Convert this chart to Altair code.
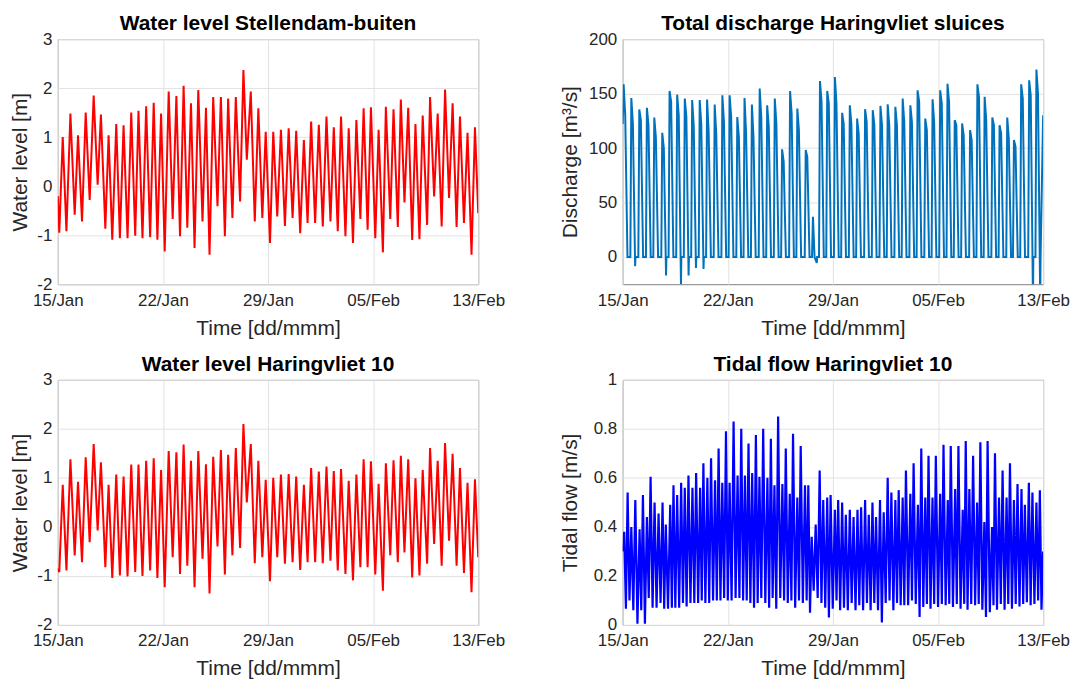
import altair as alt
import pandas as pd

# Times of successive high/low water (hours after 15 Jan 00:00), first and last entries are the series ends
TIDE_HOURS = [
    0, 2.5, 8.2, 14.3, 20.9, 28.0, 33.5, 40.1, 46.2, 52.8,
    59.4, 66.0, 71.4, 78.7, 84.1, 90.2, 96.8, 102.8, 108.9, 115.5,
    121.6, 128.2, 133.6, 140.2, 146.3, 152.9, 158.8, 164.9, 171.0, 177.0,
    183.6, 190.2, 196.3, 202.4, 208.3, 214.4, 220.5, 226.4, 232.6, 239.6,
    245.3, 251.2, 257.3, 264.4, 270.0, 276.6, 282.0, 289.1, 294.7, 301.8,
    307.3, 312.9, 319.5, 326.1, 332.0, 338.6, 344.2, 351.3, 356.7, 363.3,
    369.4, 376.0, 382.2, 388.7, 394.7, 401.3, 407.4, 413.5, 419.4, 426.0,
    432.1, 438.7, 444.8, 451.4, 456.9, 463.5, 468.9, 476.2, 481.6, 488.7,
    494.3, 500.9, 506.3, 512.9, 518.4, 525.6, 531.1, 538.2, 543.1, 550.4,
    555.8, 562.9, 567.9, 573.9, 580.1, 586.7, 592.1, 598.7, 604.1, 611.4,
    616.3, 623.0, 628.9, 635.5, 641.1, 647.7, 653.6, 660.2, 665.8, 672.4,
    678.3, 684.9, 690.6, 696.0,
]

# Water level at those times [m]
STELLENDAM_LEVEL = [
    -0.2, -0.95, 1.0, -0.92, 1.48, -0.58, 1.04, -0.72, 1.5, -0.28,
    1.85, 0.03, 1.46, -0.87, 1.04, -1.09, 1.27, -1.06, 1.24, -1.06,
    1.5, -1.01, 1.54, -1.06, 1.63, -1.04, 1.7, -1.09, 1.48, -1.33,
    1.93, -0.67, 1.84, -1.02, 2.05, -0.85, 1.69, -1.26, 1.96, -0.72,
    1.6, -1.4, 1.82, -0.41, 1.82, -1.02, 1.79, -0.65, 1.82, -0.31,
    2.37, 0.54, 1.93, -0.72, 1.59, -0.65, 1.11, -1.16, 1.11, -0.62,
    1.15, -0.81, 1.18, -0.65, 1.13, -0.96, 0.94, -0.75, 1.32, -0.75,
    1.25, -0.82, 1.42, -0.72, 1.2, -0.92, 1.42, -1.02, 1.18, -1.16,
    1.35, -0.67, 1.59, -0.89, 1.61, -1.06, 1.15, -1.35, 1.62, -0.67,
    1.57, -0.83, 1.77, -0.33, 1.6, -1.1, 1.27, -1.08, 1.44, -0.79,
    1.82, -0.21, 1.48, -0.82, 1.97, -0.24, 1.69, -0.83, 1.42, -0.75,
    1.09, -1.4, 1.2, -0.55,
]

HARINGVLIET_LEVEL = [
    -0.85, -0.92, 0.86, -0.89, 1.38, -0.58, 0.92, -0.72, 1.42, -0.31,
    1.69, -0.07, 1.32, -0.82, 0.86, -1.04, 1.07, -0.99, 1.03, -1.01,
    1.27, -0.92, 1.27, -1.0, 1.35, -0.89, 1.4, -1.04, 1.16, -1.23,
    1.55, -0.62, 1.52, -0.96, 1.68, -0.79, 1.35, -1.23, 1.55, -0.65,
    1.28, -1.36, 1.43, -0.4, 1.57, -0.97, 1.47, -0.58, 1.61, -0.43,
    2.1, 0.5, 1.69, -0.74, 1.35, -0.62, 0.96, -1.11, 1.0, -0.62,
    1.07, -0.75, 1.08, -0.72, 1.03, -0.88, 0.86, -0.72, 1.2, -0.72,
    1.13, -0.74, 1.23, -0.69, 1.14, -0.89, 1.18, -0.96, 0.94, -1.09,
    1.07, -0.82, 1.38, -0.82, 1.34, -0.97, 0.88, -1.3, 1.3, -0.58,
    1.36, -0.72, 1.45, -0.52, 1.38, -1.03, 0.99, -0.99, 1.16, -0.75,
    1.61, -0.35, 1.35, -0.79, 1.71, -0.28, 1.49, -0.79, 1.2, -0.94,
    0.9, -1.33, 0.97, -0.62,
]

# Tidal flow [m/s]: maxima at high/low water, minima (slack) in between
FLOW_AT_TIDE = [
    0.30, 0.38, 0.54, 0.40, 0.51, 0.39, 0.53, 0.44, 0.605, 0.50,
    0.455, 0.50, 0.41, 0.49, 0.57, 0.53, 0.58, 0.56, 0.61, 0.56,
    0.62, 0.56, 0.66, 0.60, 0.68, 0.59, 0.72, 0.58, 0.79, 0.58,
    0.83, 0.61, 0.80, 0.61, 0.74, 0.62, 0.775, 0.605, 0.80, 0.60,
    0.76, 0.57, 0.85, 0.575, 0.72, 0.535, 0.78, 0.52, 0.73, 0.57,
    0.57, 0.36, 0.41, 0.63, 0.51, 0.52, 0.53, 0.47, 0.51, 0.50,
    0.45, 0.47, 0.44, 0.47, 0.48, 0.51, 0.45, 0.50, 0.44, 0.51,
    0.46, 0.60, 0.54, 0.51, 0.55, 0.52, 0.63, 0.535, 0.66, 0.49,
    0.72, 0.52, 0.69, 0.52, 0.69, 0.535, 0.735, 0.51, 0.73, 0.555,
    0.73, 0.47, 0.75, 0.555, 0.69, 0.50, 0.745, 0.42, 0.75, 0.40,
    0.70, 0.52, 0.63, 0.52, 0.66, 0.51, 0.575, 0.555, 0.49, 0.58,
    0.54, 0.50, 0.55, 0.30,
]
FLOW_BETWEEN = [
    0.33,
    0.066, 0.10, 0.06, 0.005, 0.06, 0.005, 0.11, 0.07, 0.07, 0.09,
    0.066, 0.066, 0.07, 0.07, 0.07, 0.09, 0.075, 0.09, 0.09, 0.09,
    0.10, 0.09, 0.09, 0.10, 0.10, 0.10, 0.11, 0.10, 0.10, 0.11,
    0.11, 0.10, 0.10, 0.09, 0.07, 0.09, 0.11,
    0.09, 0.07, 0.11, 0.066, 0.11, 0.10, 0.09, 0.10, 0.07, 0.10,
    0.09, 0.10, 0.05, 0.14, 0.11, 0.09, 0.07, 0.03, 0.066, 0.10,
    0.06, 0.07, 0.06, 0.09, 0.06, 0.08, 0.06, 0.09, 0.06, 0.09,
    0.06, 0.01, 0.09, 0.10, 0.06, 0.09, 0.08,
    0.08, 0.08, 0.10, 0.086, 0.032, 0.073, 0.086, 0.066, 0.086, 0.073,
    0.086, 0.08, 0.086, 0.073, 0.086, 0.066, 0.086, 0.062, 0.086, 0.08,
    0.086, 0.062, 0.032, 0.052, 0.08, 0.062, 0.086, 0.062, 0.086, 0.066,
    0.086, 0.075, 0.086, 0.093, 0.08, 0.086, 0.10, 0.062,
]

# Sluice openings: time of peak discharge [h], peak, shoulder after the peak, dip at closing [m3/s]
SLUICE_PEAK_HOURS = [
    1.6, 14.3, 27.5, 40.1, 52.3, 65.5, 77.6, 90.2, 102.8, 115.0,
    127.5, 139.7, 152.3, 165.0, 177.0, 189.7, 201.7, 213.9, 226.8, 239.2,
    251.8, 263.9, 277.1, 289.1, 303.0, 315.0, 326.6, 338.6, 351.3, 363.3,
    376.0, 388.1, 401.3, 414.0, 426.7, 438.7, 451.4, 463.5, 476.2, 488.2,
    500.9, 513.0, 525.6, 537.7, 549.7, 561.9, 575.1, 587.2, 599.2, 611.9,
    623.9, 636.6, 647.7, 659.7, 672.9, 684.9,
]
SLUICE_PEAK = [
    158.5, 146, 135.4, 136.9, 128, 114, 152.4, 149, 145.4, 144,
    144, 144.5, 140, 148.5, 148.5, 128.4, 146, 140, 154.6, 139.3,
    145.4, 98.8, 152.4, 136.3, 98.2, 37, 161.6, 152.4, 165.2, 132.3,
    139.3, 127.1, 135.7, 134.8, 138.7, 140.2, 137.8, 145.4, 139.3, 153,
    127.1, 144.8, 153, 159, 125.6, 122.6, 116.5, 158.5, 147, 128,
    121, 128, 107.3, 158.5, 162.2, 172,
]
SLUICE_SHOULDER = [
    130, 122.6, 125.6, 121, 110.4, 100, 142.4, 130, 129, 121,
    122, 115.5, 113.4, 124, 128.7, 110.4, 113.4, 110.4, 128.7, 120,
    122.6, 87.5, 131.7, 116.5, 92, 0, 142.4, 140.9, 140.9, 122,
    122, 113.4, 124, 121, 121, 121, 121, 124, 124, 142.4,
    116.5, 124, 140.9, 142.4, 121, 112, 107.3, 147, 125.6, 121,
    113.4, 108.8, 101.2, 145.4, 148.5, 150,
]
SLUICE_DIP = [
    0, -8.5, 0, 0, 0, -17, 0, -25, -17, -10,
    -11, 0, 0, 0, 0, 0, 0, 0, 0, 0,
    0, 0, 0, 0, 0, -5.5, 0, 0, 0, 0,
    0, 0, 0, 0, 0, 0, 0, 0, 0, 0,
    0, 0, 0, 0, 0, 0, 0, 0, 0, 0,
    0, 0, 0, 0, -40, -40,
]
SLUICE_FIRST = 122
SLUICE_LAST = 130

START = pd.Timestamp("2019-01-15 00:00")
END_HOURS = 696.0


def stamp(h):
    return START + pd.Timedelta(hours=float(h))


level_sb = pd.DataFrame({"time": [stamp(h) for h in TIDE_HOURS], "v": STELLENDAM_LEVEL})
level_hv = pd.DataFrame({"time": [stamp(h) for h in TIDE_HOURS], "v": HARINGVLIET_LEVEL})

flow_rows = []
for i, h in enumerate(TIDE_HOURS):
    flow_rows.append((h, FLOW_AT_TIDE[i]))
    if i < len(FLOW_BETWEEN):
        flow_rows.append(((h + TIDE_HOURS[i + 1]) / 2, FLOW_BETWEEN[i]))
flow = pd.DataFrame({"time": [stamp(h) for h, _ in flow_rows], "v": [v for _, v in flow_rows]})

# each opening: closed gate -> quick rise to the peak -> shoulder -> closing (with dip) -> closed
sluice_rows = [(0.0, SLUICE_FIRST)]
for p, pk, sh, dip in zip(SLUICE_PEAK_HOURS, SLUICE_PEAK, SLUICE_SHOULDER, SLUICE_DIP):
    for h, v in ((p - 1.6, 0), (p, pk), (p + 2.6, sh), (p + 6.3, dip), (p + 6.9, 0)):
        if 0 < h < END_HOURS:
            sluice_rows.append((h, v))
sluice_rows.append((END_HOURS, SLUICE_LAST))
sluice = pd.DataFrame({"time": [stamp(h) for h, _ in sluice_rows], "v": [v for _, v in sluice_rows]})

FONT = "Liberation Sans"
X_TICKS = [
    alt.DateTime(year=2019, month=1, date=15),
    alt.DateTime(year=2019, month=1, date=22, hours=6),
    alt.DateTime(year=2019, month=1, date=29, hours=12),
    alt.DateTime(year=2019, month=2, date=5, hours=18),
    alt.DateTime(year=2019, month=2, date=13),
]
X_DOMAIN = [alt.DateTime(year=2019, month=1, date=15), alt.DateTime(year=2019, month=2, date=13)]


def panel(df, title, ytitle, ydomain, yticks, color, width, extent, title_pad):
    x = alt.X(
        "time:T",
        scale=alt.Scale(domain=X_DOMAIN, nice=False),
        axis=alt.Axis(
            values=X_TICKS, format="%d/%b", title="Time [dd/mmm]", labelAngle=0,
            labelPadding=8, titlePadding=9, labelOverlap=False, labelFlush=False,
        ),
    )
    y = alt.Y(
        "v:Q",
        scale=alt.Scale(domain=ydomain, nice=False, zero=False),
        axis=alt.Axis(
            values=yticks, title=ytitle, labelExpr="toString(datum.value)",
            labelPadding=6, titlePadding=title_pad, minExtent=extent, maxExtent=extent,
        ),
    )
    return (
        alt.Chart(df, title=alt.Title(title, fontSize=21, font=FONT, fontWeight="bold",
                                      color="#000000", offset=-4))
        .mark_line(color=color, strokeWidth=width, clip=True)
        .encode(x=x, y=y)
        .properties(width=422, height=246)
    )


p1 = panel(level_sb, "Water level Stellendam-buiten", "Water level [m]", [-2, 3],
           [-2, -1, 0, 1, 2, 3], "#ff0000", 2, 22, 5)
p2 = panel(sluice, "Total discharge Haringvliet sluices", "Discharge [m³/s]", [-25, 200],
           [0, 50, 100, 150, 200], "#0072bd", 2, 36, 6)
p3 = panel(level_hv, "Water level Haringvliet 10", "Water level [m]", [-2, 3],
           [-2, -1, 0, 1, 2, 3], "#ff0000", 2, 22, 5)
p4 = panel(flow, "Tidal flow Haringvliet 10", "Tidal flow [m/s]", [0, 1],
           [0, 0.2, 0.4, 0.6, 0.8, 1], "#0000ff", 2.2, 36, 6)

chart = (
    alt.vconcat(
        alt.hconcat(p1, p2, spacing=54),
        alt.hconcat(p3, p4, spacing=54),
        spacing=14,
    )
    .properties(padding={"left": 9, "top": 11, "right": 5, "bottom": 0}, background="white")
    .configure_view(stroke="#808080", strokeWidth=1)
    .configure_axis(
        grid=True, gridColor="#e2e2e2", gridWidth=1, domain=False, ticks=False,
        labelFont=FONT, labelFontSize=17, labelColor="#262626",
        titleFont=FONT, titleFontSize=21, titleFontWeight="normal", titleColor="#262626",
    )
)

chart.save("out.html", embed_options={"renderer": "svg", "actions": False})
